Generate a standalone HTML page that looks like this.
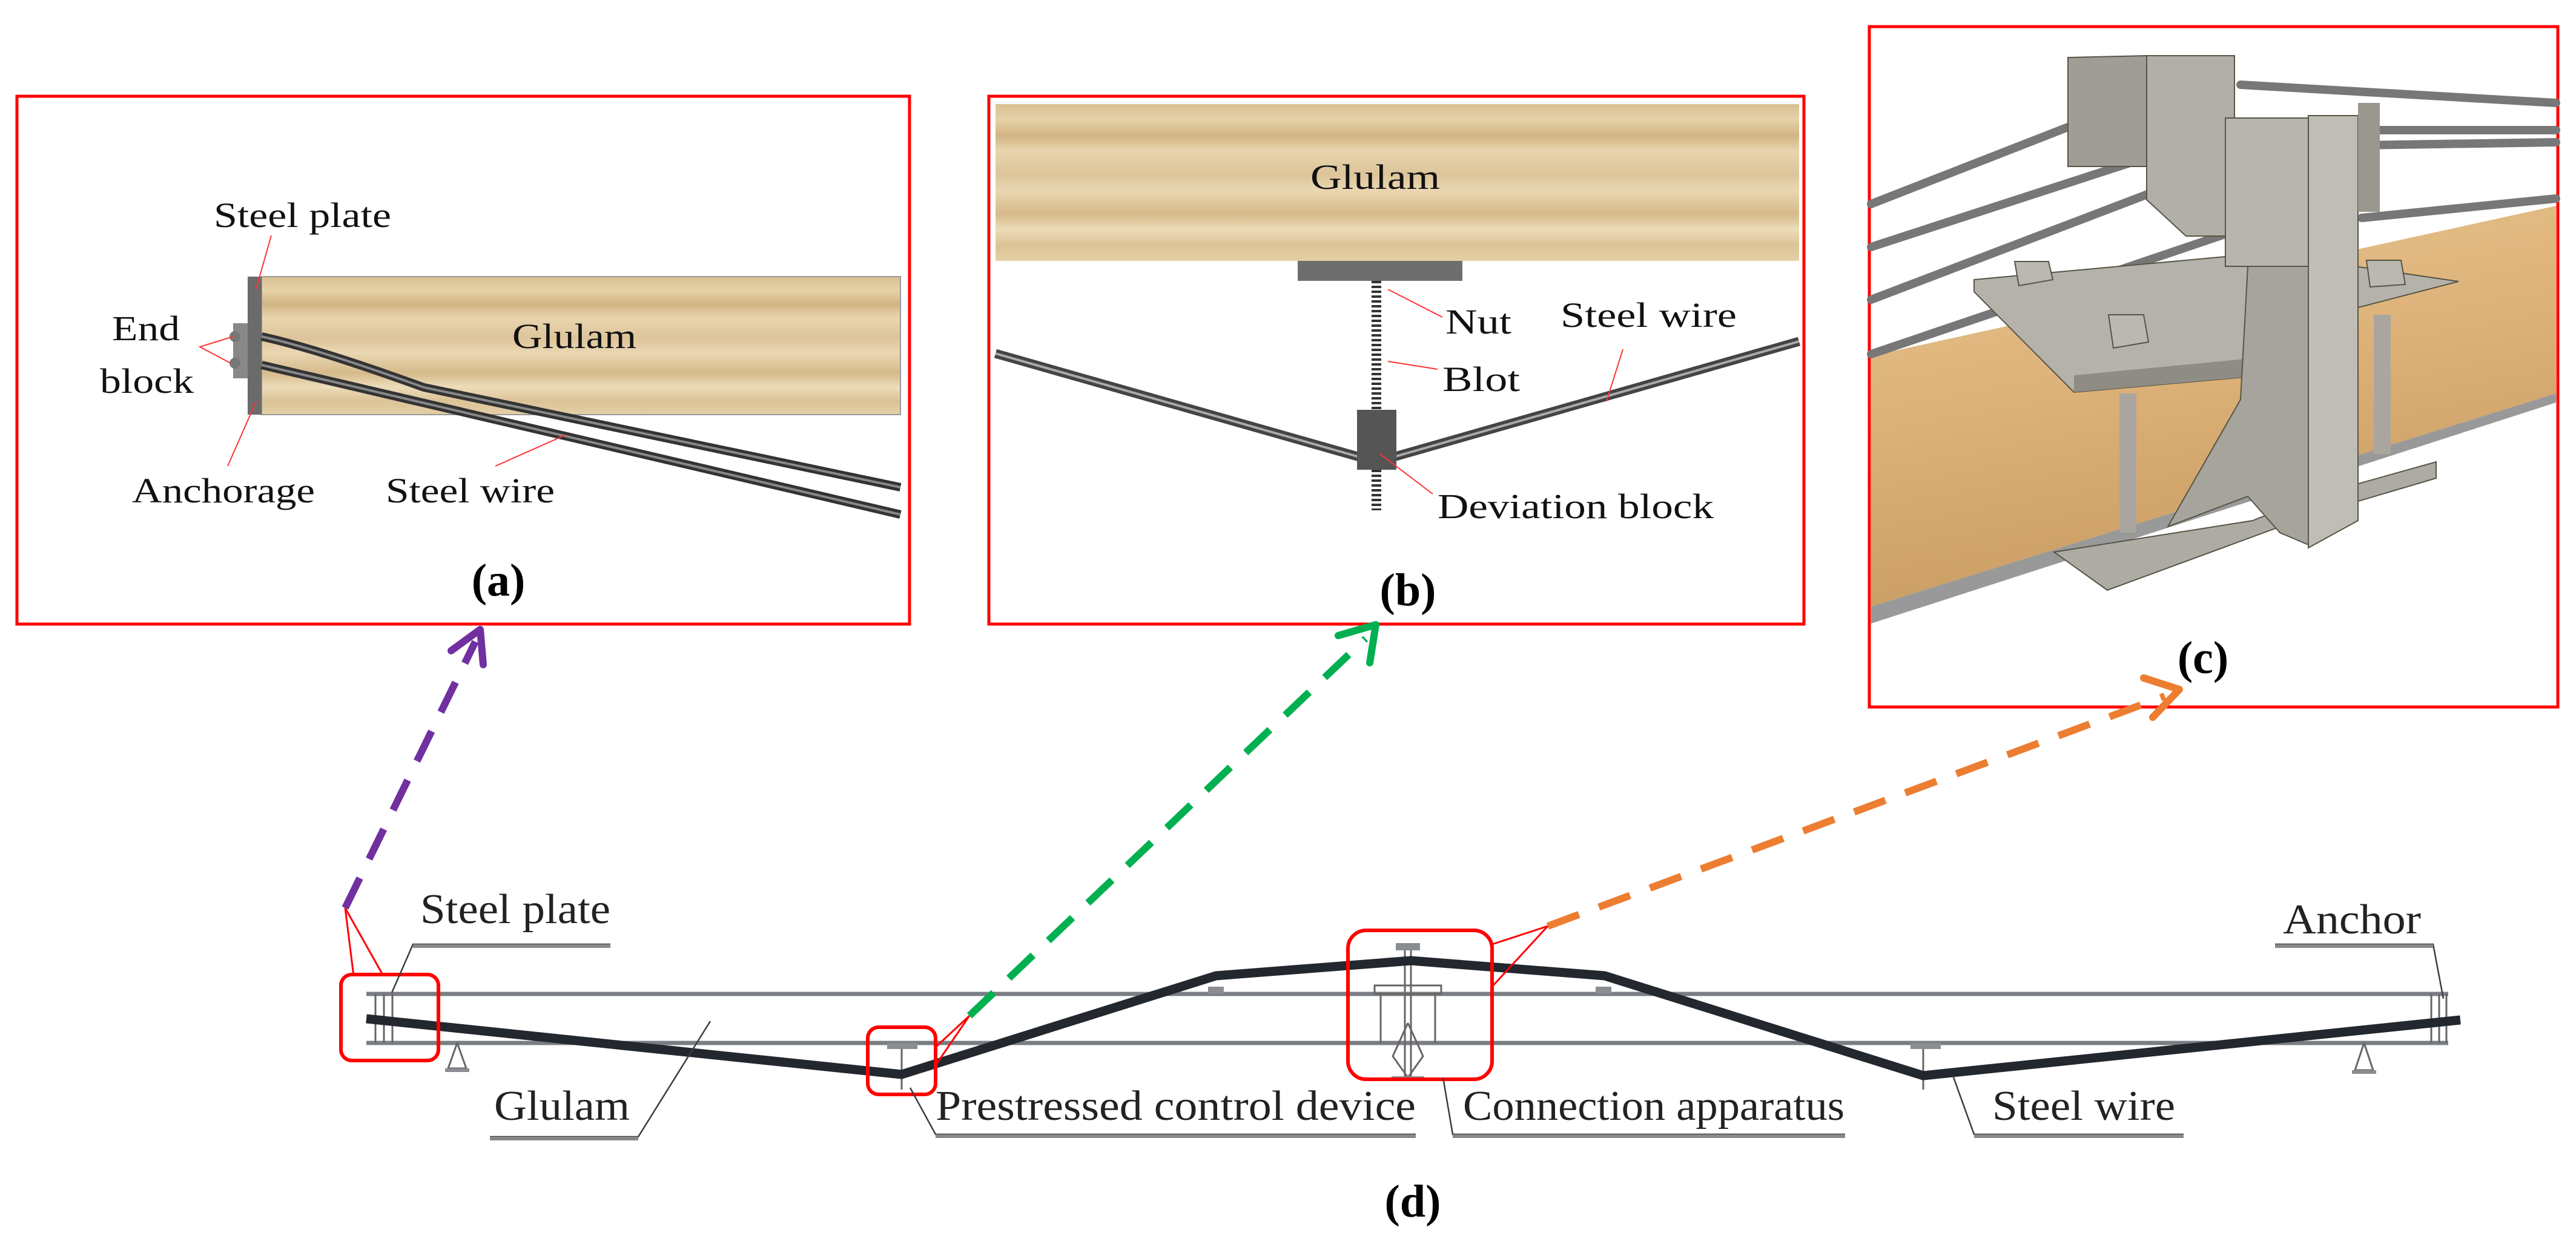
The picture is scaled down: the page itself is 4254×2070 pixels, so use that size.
<!DOCTYPE html>
<html><head><meta charset="utf-8"><style>html,body{margin:0;padding:0;background:#fff}svg{display:block}</style></head><body>
<svg width="4254" height="2070" viewBox="0 0 4254 2070" xmlns="http://www.w3.org/2000/svg" font-family="Liberation Serif, serif">
<defs>
<linearGradient id="woodA" x1="0" y1="0" x2="0" y2="1">
<stop offset="0" stop-color="#d9c094"/><stop offset="0.1" stop-color="#e6d2a8"/><stop offset="0.2" stop-color="#d2b483"/><stop offset="0.3" stop-color="#e8d5ae"/><stop offset="0.45" stop-color="#ddc49a"/><stop offset="0.55" stop-color="#e9d7b2"/><stop offset="0.7" stop-color="#d6ba8b"/><stop offset="0.8" stop-color="#ecdcb9"/><stop offset="0.9" stop-color="#dcc397"/><stop offset="1" stop-color="#e4cfa6"/>
</linearGradient>
<linearGradient id="woodC" x1="0" y1="0" x2="0.3" y2="1">
<stop offset="0" stop-color="#e8c48e"/><stop offset="0.5" stop-color="#dcb279"/><stop offset="1" stop-color="#c99c62"/>
</linearGradient>
</defs>

<!-- Panel a -->
<rect x="28" y="159" width="1474" height="872" fill="none" stroke="#f00" stroke-width="5"/>
<rect x="432" y="457" width="1055" height="228" fill="url(#woodA)" stroke="#999" stroke-width="2"/>
<rect x="409" y="457" width="23" height="228" fill="#6b6b6b"/>
<rect x="385" y="534" width="24" height="91" fill="#888"/>
<circle cx="388" cy="556" r="9" fill="#777"/><circle cx="388" cy="600" r="9" fill="#777"/>
<path d="M432 556 Q520 575 700 640 L1487 805" fill="none" stroke="#333" stroke-width="14"/>
<path d="M432 556 Q520 575 700 640 L1487 805" fill="none" stroke="#888" stroke-width="4"/>
<path d="M432 603 L1487 850" fill="none" stroke="#333" stroke-width="14"/>
<path d="M432 603 L1487 850" fill="none" stroke="#888" stroke-width="4"/>
<g stroke="#f33" stroke-width="2" fill="none">
<line x1="448" y1="389" x2="423" y2="477"/><line x1="376" y1="770" x2="423" y2="663"/>
<polyline points="385,556 330,573 381,600"/><line x1="818" y1="770" x2="935" y2="718"/>
</g>
<g font-size="58" fill="#111">
<text x="353" y="375" textLength="293" lengthAdjust="spacingAndGlyphs">Steel plate</text>
<text x="185" y="562" textLength="112" lengthAdjust="spacingAndGlyphs">End</text>
<text x="165" y="649" textLength="155" lengthAdjust="spacingAndGlyphs">block</text>
<text x="218" y="830" textLength="302" lengthAdjust="spacingAndGlyphs">Anchorage</text>
<text x="637" y="830" textLength="279" lengthAdjust="spacingAndGlyphs">Steel wire</text>
<text x="846" y="575" textLength="205" lengthAdjust="spacingAndGlyphs">Glulam</text>
</g>
<text x="823" y="984" font-size="76" font-weight="bold" text-anchor="middle">(a)</text>

<!-- Panel b -->
<rect x="1633" y="159" width="1346" height="872" fill="none" stroke="#f00" stroke-width="5"/>
<rect x="1644" y="172" width="1327" height="259" fill="url(#woodA)"/>
<rect x="2143" y="431" width="272" height="33" fill="#6e6e6e"/>
<line x1="2273" y1="464" x2="2273" y2="843" stroke="#333" stroke-width="16" stroke-dasharray="4 4"/>
<polyline points="1644,584 2273,763 2971,564" fill="none" stroke="#444" stroke-width="15"/>
<polyline points="1644,584 2273,763 2971,564" fill="none" stroke="#aaa" stroke-width="4"/>
<rect x="2241" y="677" width="65" height="99" fill="#555"/>
<g stroke="#f33" stroke-width="2" fill="none">
<line x1="2292" y1="478" x2="2382" y2="524"/><line x1="2292" y1="597" x2="2374" y2="610"/>
<line x1="2680" y1="577" x2="2653" y2="663"/><line x1="2279" y1="750" x2="2366" y2="816"/>
</g>
<g font-size="58" fill="#111">
<text x="2271" y="312" text-anchor="middle" textLength="214" lengthAdjust="spacingAndGlyphs">Glulam</text>
<text x="2387" y="551" textLength="109" lengthAdjust="spacingAndGlyphs">Nut</text>
<text x="2382" y="646" textLength="128" lengthAdjust="spacingAndGlyphs">Blot</text>
<text x="2577" y="540" textLength="291" lengthAdjust="spacingAndGlyphs">Steel wire</text>
<text x="2374" y="856" textLength="456" lengthAdjust="spacingAndGlyphs">Deviation block</text>
</g>
<text x="2325" y="1000" font-size="76" font-weight="bold" text-anchor="middle">(b)</text>

<!-- Panel c -->
<rect x="3087" y="44" width="1137" height="1124" fill="none" stroke="#f00" stroke-width="5"/>
<polygon points="3090,588 4221,340 4221,650 3090,1002" fill="url(#woodC)"/>
<polygon points="3090,1002 4221,650 4221,665 3090,1030" fill="#999"/>
<g stroke="#777" stroke-width="14" stroke-linecap="round">
<line x1="3090" y1="337" x2="3530" y2="165"/><line x1="3090" y1="408" x2="3530" y2="265"/>
<line x1="3090" y1="495" x2="3680" y2="270"/><line x1="3090" y1="585" x2="3680" y2="385"/>
<line x1="3700" y1="140" x2="4221" y2="170"/><line x1="3900" y1="215" x2="4221" y2="215"/>
<line x1="3900" y1="240" x2="4221" y2="235"/><line x1="3900" y1="360" x2="4221" y2="328"/>
</g>
<polygon points="3415,95 3545,92 3545,275 3415,275" fill="#a09d96" stroke="#554" stroke-width="2"/>
<polygon points="3545,92 3690,92 3690,390 3610,390 3545,330" fill="#b2afa8" stroke="#554" stroke-width="2"/>
<polygon points="3260,462 3740,418 4060,465 3740,548 3740,620 3425,648 3260,482" fill="#b5b2ab" stroke="#554" stroke-width="2"/>
<polygon points="3425,620 3740,590 3740,620 3425,648" fill="#8f8c86"/>
<rect x="3500" y="650" width="28" height="230" fill="#aaa69f"/>
<rect x="3920" y="520" width="28" height="230" fill="#aaa69f"/>
<polygon points="3392,912 3720,860 3820,820 4023,763 4023,790 3820,850 3480,975" fill="#aeaba4" stroke="#554" stroke-width="2"/>
<polygon points="3675,195 3812,195 3812,440 3675,440" fill="#b8b5ae" stroke="#554" stroke-width="2"/>
<polygon points="3712,440 3812,440 3812,900 3765,880 3712,820 3580,870 3700,660" fill="#a7a49d" stroke="#554" stroke-width="2"/>
<polygon points="3812,191 3894,191 3894,860 3812,905" fill="#c0bdb6" stroke="#554" stroke-width="2"/>
<polygon points="3894,170 3930,170 3930,350 3894,350" fill="#9a978f"/>
<g fill="#bbb8b1" stroke="#554" stroke-width="2">
<polygon points="3327,432 3383,432 3390,462 3334,472"/><polygon points="3482,520 3540,520 3548,565 3490,575"/>
<polygon points="3908,430 3965,430 3972,470 3914,474"/>
</g>
<text x="3638" y="1112" font-size="76" font-weight="bold" text-anchor="middle">(c)</text>

<!-- Panel d -->
<g stroke="#7a7d82" stroke-width="7">
<line x1="605" y1="1642" x2="4043" y2="1642"/><line x1="605" y1="1723" x2="4043" y2="1723"/>
</g>
<g stroke="#666" stroke-width="3" fill="none">
<line x1="620" y1="1642" x2="620" y2="1723"/><line x1="634" y1="1642" x2="634" y2="1723"/><line x1="648" y1="1642" x2="648" y2="1723"/>
<line x1="4015" y1="1642" x2="4015" y2="1723"/><line x1="4028" y1="1642" x2="4028" y2="1723"/><line x1="4040" y1="1642" x2="4040" y2="1723"/>
<polyline points="755,1723 740,1765 770,1765 755,1723"/><polyline points="3904,1723 3889,1768 3919,1768 3904,1723"/>
<line x1="1489" y1="1723" x2="1489" y2="1800"/><line x1="3176" y1="1723" x2="3176" y2="1800"/>
<line x1="2330" y1="1565" x2="2330" y2="1780"/><line x1="2320" y1="1565" x2="2320" y2="1780"/>
<rect x="2270" y="1628" width="110" height="14"/><line x1="2280" y1="1642" x2="2280" y2="1723"/><line x1="2370" y1="1642" x2="2370" y2="1723"/>
<polyline points="2325,1690 2300,1745 2325,1780 2350,1745 2325,1690"/>
</g>
<g fill="#8a8d92">
<rect x="1465" y="1723" width="50" height="10"/><rect x="3155" y="1723" width="50" height="10"/>
<rect x="2305" y="1558" width="40" height="12"/><rect x="2298" y="1778" width="54" height="8"/>
<rect x="735" y="1765" width="40" height="6"/><rect x="3884" y="1768" width="40" height="6"/>
<rect x="1995" y="1630" width="26" height="12"/><rect x="2635" y="1630" width="26" height="12"/>
</g>
<polyline points="605,1683 1489,1775 2008,1612 2330,1587 2650,1612 3176,1777 4063,1685" fill="none" stroke="#23272e" stroke-width="15" stroke-linejoin="round"/>
<g stroke="#f00" stroke-width="6" fill="none">
<rect x="563" y="1610" width="161" height="142" rx="18"/>
<rect x="1433" y="1697" width="112" height="111" rx="18"/>
<rect x="2226" y="1537" width="238" height="246" rx="30"/>
</g>
<g stroke="#f00" stroke-width="3" fill="none">
<polyline points="584,1612 570,1500 633,1612"/>
<polyline points="1545,1730 1601,1678 1545,1760"/>
<polyline points="2464,1560 2556,1530 2464,1630"/>
</g>
<g stroke="#3a3d42" stroke-width="2.5" fill="none">
<polyline points="1008,1560 682,1560 647,1640"/>
<polyline points="809,1878 1054,1878 1173,1687"/>
<polyline points="2338,1874 1545,1874 1503,1797"/>
<polyline points="3047,1874 2399,1874 2383,1780"/>
<polyline points="3606,1874 3260,1874 3225,1777"/>
<polyline points="3757,1560 4018,1560 4035,1650"/>
</g>
<g stroke="#888" stroke-width="6">
<line x1="682" y1="1563" x2="1008" y2="1563"/><line x1="809" y1="1881" x2="1054" y2="1881"/>
<line x1="1545" y1="1877" x2="2338" y2="1877"/><line x1="2399" y1="1877" x2="3047" y2="1877"/>
<line x1="3260" y1="1877" x2="3606" y2="1877"/><line x1="3757" y1="1563" x2="4018" y2="1563"/>
</g>
<g font-size="70" fill="#222">
<text x="694" y="1525" textLength="314" lengthAdjust="spacingAndGlyphs">Steel plate</text>
<text x="816" y="1850" textLength="224" lengthAdjust="spacingAndGlyphs">Glulam</text>
<text x="1545" y="1850" textLength="793" lengthAdjust="spacingAndGlyphs">Prestressed control device</text>
<text x="2416" y="1850" textLength="630" lengthAdjust="spacingAndGlyphs">Connection apparatus</text>
<text x="3290" y="1850" textLength="302" lengthAdjust="spacingAndGlyphs">Steel wire</text>
<text x="3770" y="1542" textLength="228" lengthAdjust="spacingAndGlyphs">Anchor</text>
</g>
<text x="2333" y="2010" font-size="76" font-weight="bold" text-anchor="middle">(d)</text>

<!-- arrows -->
<g fill="none" stroke-width="12" stroke-dasharray="55 35">
<line x1="570" y1="1500" x2="785" y2="1060" stroke="#7030a0"/>
<line x1="1601" y1="1678" x2="2255" y2="1055" stroke="#00b050"/>
<line x1="2556" y1="1530" x2="3575" y2="1150" stroke="#ed7d31"/>
</g>
<g fill="none" stroke-width="12" stroke-linecap="round" stroke-linejoin="round">
<polyline points="745,1075 793,1040 798,1098" stroke="#7030a0"/>
<polyline points="2210,1050 2272,1032 2262,1095" stroke="#00b050"/>
<polyline points="3540,1120 3599,1139 3555,1185" stroke="#ed7d31"/>
</g>
</svg>
</body></html>
